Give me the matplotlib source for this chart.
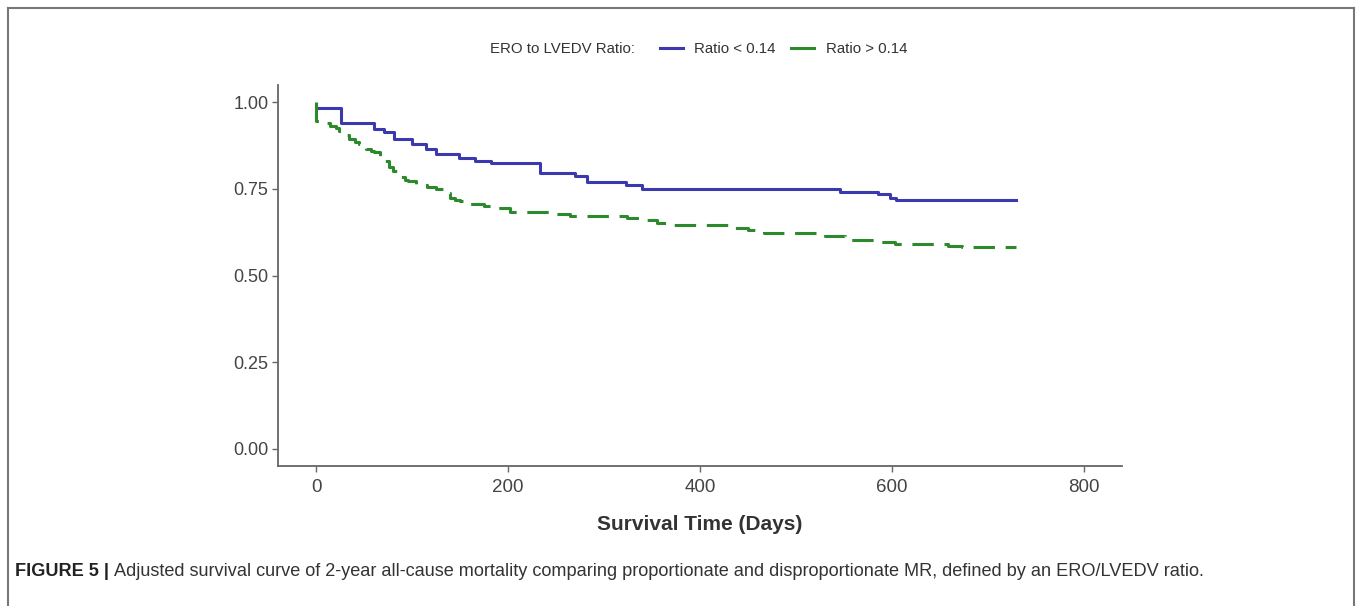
import matplotlib
matplotlib.use("Agg")
import matplotlib.pyplot as plt
from matplotlib.lines import Line2D

plt.rcParams['font.family'] = ['Liberation Sans', 'DejaVu Sans']

# Kaplan-Meier style steps
days_low = [0, 26, 60, 71, 81, 100, 114, 125, 149, 165, 182, 233, 270, 282, 323, 340, 546, 586, 598, 604, 729]
surv_low = [0.985, 0.941, 0.922, 0.913, 0.895, 0.879, 0.865, 0.850, 0.840, 0.831, 0.824, 0.797, 0.788, 0.770,
            0.762, 0.751, 0.742, 0.735, 0.725, 0.717, 0.717]

days_high = [0, 0, 8, 14, 20, 24, 30, 34, 40, 44, 48, 52, 57, 60, 66, 71, 76, 80, 84, 87, 92, 96, 104, 110,
             115, 125, 132, 139, 145, 150, 160, 175, 188, 202, 247, 264, 324, 338, 355, 369, 432, 450, 467,
             530, 551, 589, 603, 659, 673, 729]
surv_high = [1.0, 0.946, 0.940, 0.932, 0.925, 0.917, 0.905, 0.893, 0.886, 0.880, 0.872, 0.865, 0.860, 0.857,
             0.845, 0.830, 0.812, 0.803, 0.795, 0.783, 0.777, 0.772, 0.764, 0.760, 0.756, 0.749, 0.737, 0.725,
             0.718, 0.714, 0.706, 0.700, 0.696, 0.682, 0.677, 0.671, 0.666, 0.660, 0.653, 0.645, 0.636, 0.631,
             0.622, 0.613, 0.602, 0.596, 0.591, 0.586, 0.581, 0.581]

legend_title = 'ERO to LVEDV Ratio:'
group_labels = ['Ratio < 0.14', 'Ratio > 0.14']
blue = '#3a3aae'
green = '#2c8a2c'

fig = plt.figure(figsize=(13.57, 6.06), dpi=100)
ax = fig.add_axes([278 / 1357, 1 - 466 / 606, (1122 - 278) / 1357, (466 - 85) / 606])

ax.step(days_low, surv_low, where='post', color=blue, lw=2.2)
ax.step(days_high, surv_high, where='post', color=green, lw=2.2, dashes=(7, 3.5))

ax.set_xlim(-40, 840)
ax.set_ylim(-0.05, 1.05)
ax.set_xticks([0, 200, 400, 600, 800])
ax.set_yticks([0, 0.25, 0.5, 0.75, 1.0])
ax.set_yticklabels(['0.00', '0.25', '0.50', '0.75', '1.00'])
for s in ['top', 'right']:
    ax.spines[s].set_visible(False)
for s in ['left', 'bottom']:
    ax.spines[s].set_color('#666666')
    ax.spines[s].set_linewidth(1.3)
ax.tick_params(colors='#666666', labelcolor='#444444', length=4, width=1)
ax.tick_params(axis='y', labelsize=13, pad=3)
ax.tick_params(axis='x', labelsize=13.5, pad=5)
ax.set_xlabel('Survival Time (Days)', fontsize=15, fontweight='bold', color='#333333', labelpad=14)

# legend across the top
fig.text(490 / 1357, 1 - 49 / 606, legend_title, fontsize=10.8, color='#333333', va='center', ha='left')
handles = [Line2D([], [], color=blue, lw=2.2), Line2D([], [], color=green, lw=2.2)]
fig.legend(handles, group_labels, loc='center left', bbox_to_anchor=(660 / 1357, 1 - 49 / 606),
           ncol=2, frameon=False, fontsize=10.8, handlelength=1.5, columnspacing=1.0, handletextpad=0.8,
           borderpad=0, borderaxespad=0, labelcolor='#333333')

# frame around figure (left, top, right)
frame = dict(color='#777777', lw=1.5, transform=fig.transFigure)
fig.add_artist(Line2D([8 / 1357, 8 / 1357], [0, 1 - 8 / 606], **frame))
fig.add_artist(Line2D([8 / 1357, 1354 / 1357], [1 - 8 / 606, 1 - 8 / 606], **frame))
fig.add_artist(Line2D([1354 / 1357, 1354 / 1357], [0, 1 - 8 / 606], **frame))

# caption
cap_y = 1 - 572 / 606
t1 = fig.text(15 / 1357, cap_y, 'FIGURE 5 | ', fontsize=13.1, fontweight='bold', color='#222222', va='center')
r = fig.canvas.get_renderer()
bb = t1.get_window_extent(renderer=r)
fig.text(bb.x1 / fig.bbox.width, cap_y,
         'Adjusted survival curve of 2-year all-cause mortality comparing proportionate and disproportionate MR, '
         'defined by an ERO/LVEDV ratio.', fontsize=13.1, color='#333333', va='center')

fig.savefig('out.png', dpi=100)
